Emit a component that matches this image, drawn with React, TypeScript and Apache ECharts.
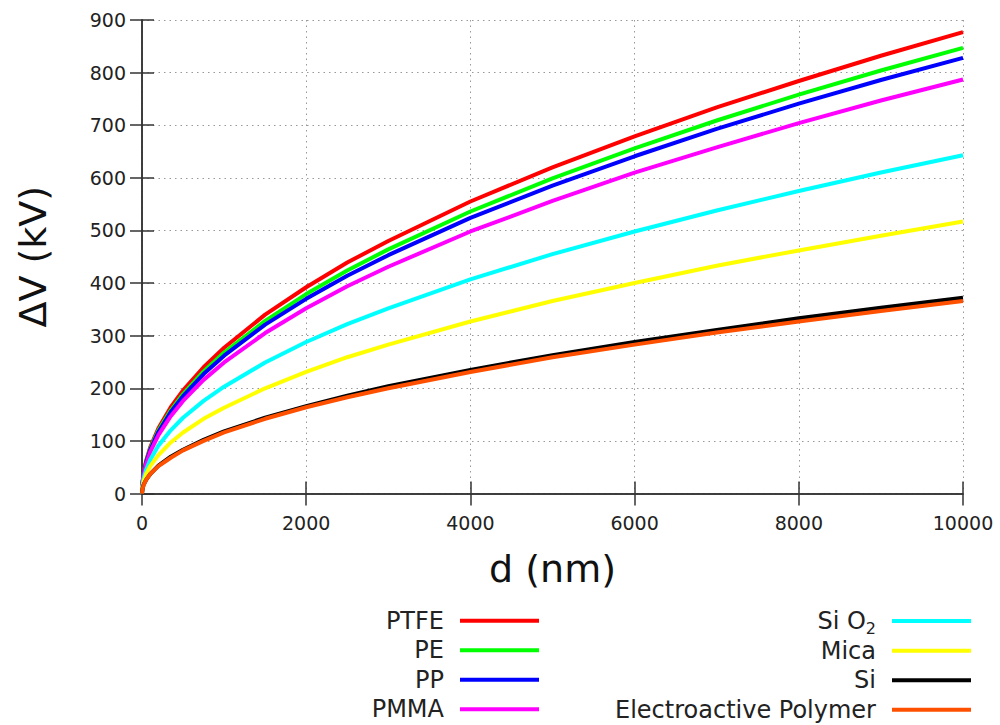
import React, { useEffect, useRef } from "react";
import * as echarts from "echarts";

const distances = [0, 5, 20, 50, 100, 200, 350, 500, 750, 1000, 1500, 2000, 2500, 3000, 4000, 5000, 6000, 7000, 8000, 9000, 10000];

const ptfe = [0, 20, 39, 62, 88, 124, 164, 196, 240, 277, 340, 392, 439, 480, 555, 620, 679, 734, 784, 832, 877];
const pe = [0, 19, 38, 60, 85, 120, 158, 189, 232, 268, 328, 379, 424, 464, 536, 599, 656, 709, 758, 804, 847];
const pp = [0, 19, 37, 59, 83, 117, 155, 185, 227, 262, 321, 370, 414, 453, 524, 585, 641, 693, 741, 786, 828];
const pmma = [0, 18, 35, 56, 79, 111, 147, 176, 216, 249, 305, 352, 394, 431, 498, 556, 610, 658, 704, 747, 787];
const sio2 = [0, 14, 29, 45, 64, 91, 120, 144, 176, 203, 249, 288, 322, 352, 407, 455, 498, 538, 575, 610, 643];
const mica = [0, 12, 23, 37, 52, 73, 97, 116, 142, 163, 200, 231, 259, 283, 327, 366, 400, 433, 462, 490, 517];
const si = [0, 8, 17, 26, 37, 53, 70, 83, 102, 118, 144, 166, 186, 204, 235, 263, 288, 311, 333, 353, 372];
const eap = [0, 8, 16, 26, 37, 52, 68, 82, 100, 116, 142, 164, 183, 200, 231, 259, 283, 306, 327, 347, 366];

const seriesNames = ["PTFE", "PE", "PP", "PMMA", "Si O2", "Mica", "Si", "Electroactive Polymer"];
const seriesValues = [ptfe, pe, pp, pmma, sio2, mica, si, eap];
const seriesColors = ["#ff0000", "#00ff00", "#0000ff", "#ff00ff", "#00ffff", "#ffff00", "#000000", "#ff5000"];

const xTicks = { min: 0, max: 10000, interval: 2000 };
const yTicks = { min: 0, max: 900, interval: 100 };

const FONT = "DejaVu Sans";

export default function App() {
  const ref = useRef<HTMLDivElement>(null);

  useEffect(() => {
    if (!ref.current) return;
    const chart = echarts.init(ref.current, null, { renderer: "svg" });

    const axisLine = { show: true, lineStyle: { color: "#333", width: 1.5 } };
    const axisTick = { show: true, inside: true, length: 12, lineStyle: { color: "#333", width: 1.5 } };
    const splitLine = { show: true, lineStyle: { color: "#999", width: 1, type: [1.5, 4] } };

    const legendText = {
      fontFamily: FONT,
      fontSize: 24,
      color: "#222",
      lineHeight: 29.5,
      padding: [0, 11, 0, 0],
      rich: {
        sub: { fontFamily: FONT, fontSize: 16, lineHeight: 14, padding: [14, 0, 0, 0], color: "#222" },
      },
    };

    const legendBase = {
      orient: "vertical",
      align: "right",
      top: 606,
      height: 130,
      padding: 0,
      itemGap: 0,
      itemWidth: 79,
      itemHeight: 4,
      icon: "rect",
      selectedMode: false,
      textStyle: legendText,
    };

    const option: any = {
      animation: false,
      backgroundColor: "#ffffff",
      grid: { left: 142, top: 20, width: 821, height: 473.5 },
      legend: [
        { ...legendBase, data: seriesNames.slice(0, 4), right: 461 },
        {
          ...legendBase,
          data: seriesNames.slice(4),
          right: 29,
          formatter: (name: string) => (name === "Si O2" ? "Si O{sub|2}" : name),
        },
      ],
      xAxis: [
        {
          type: "value",
          position: "bottom",
          min: xTicks.min,
          max: xTicks.max,
          interval: xTicks.interval,
          name: "d (nm)",
          nameLocation: "middle",
          nameGap: 56,
          nameTextStyle: { fontFamily: FONT, fontSize: 38, color: "#111" },
          axisLine,
          axisTick,
          splitLine,
          axisLabel: {
            fontFamily: FONT,
            fontSize: 19,
            color: "#222",
            margin: 20,
            formatter: (v: number) => String(v),
          },
        },
        {
          type: "value",
          position: "top",
          min: xTicks.min,
          max: xTicks.max,
          interval: xTicks.interval,
          axisLine,
          axisTick,
          splitLine: { show: false },
          axisLabel: { show: false },
        },
      ],
      yAxis: [
        {
          type: "value",
          position: "left",
          min: yTicks.min,
          max: yTicks.max,
          interval: yTicks.interval,
          name: "ΔV (kV)",
          nameLocation: "middle",
          nameRotate: 90,
          nameGap: 90,
          nameTextStyle: { fontFamily: FONT, fontSize: 38, color: "#111" },
          axisLine,
          axisTick,
          splitLine,
          axisLabel: {
            fontFamily: FONT,
            fontSize: 19,
            color: "#222",
            margin: 16,
            formatter: (v: number) => String(v),
          },
        },
        {
          type: "value",
          position: "right",
          min: yTicks.min,
          max: yTicks.max,
          interval: yTicks.interval,
          axisLine,
          axisTick,
          splitLine: { show: false },
          axisLabel: { show: false },
        },
      ],
      series: seriesNames.map((name, i) => ({
        name,
        type: "line",
        xAxisIndex: 0,
        yAxisIndex: 0,
        data: distances.map((d, j) => [d, seriesValues[i][j]]),
        smooth: false,
        showSymbol: false,
        symbol: "none",
        color: seriesColors[i],
        lineStyle: { color: seriesColors[i], width: 4, join: "round" },
        itemStyle: { color: seriesColors[i] },
        clip: false,
        z: 2 + i,
      })),
    };

    chart.setOption(option);
    return () => chart.dispose();
  }, []);

  return (
    <div
      ref={ref}
      style={{ position: "fixed", left: 0, top: 0, width: 1000, height: 725 }}
    />
  );
}
